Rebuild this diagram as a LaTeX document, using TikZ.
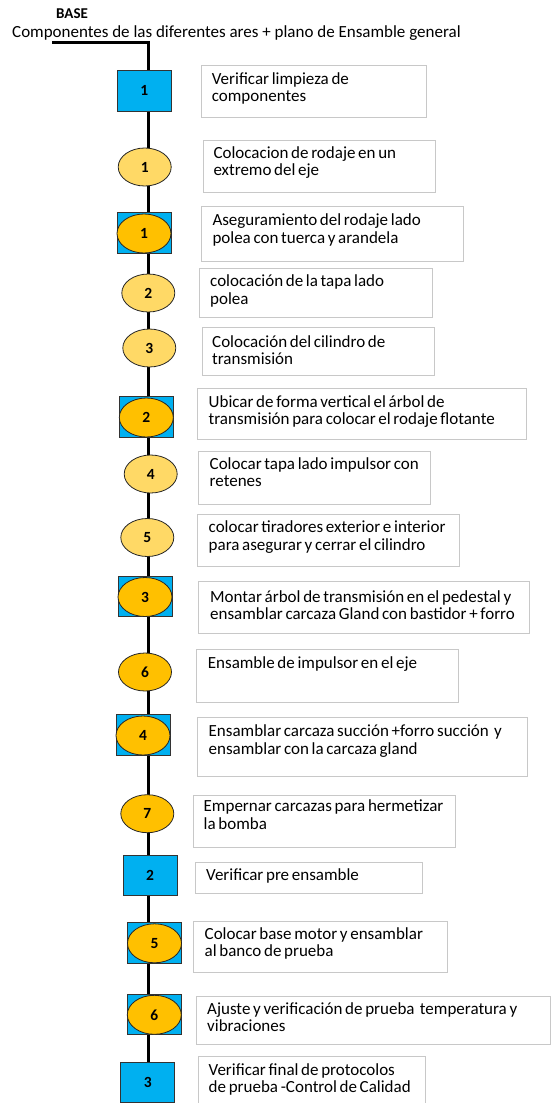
\documentclass[tikz,border=0pt]{standalone}
\usepackage{fontspec}
\setmainfont{Carlito}
\newfontfamily\boxfont{Carlito}[WordSpace=0.7]
\usetikzlibrary{backgrounds,shapes.geometric}

\definecolor{stepblue}{HTML}{00B0F0}
\definecolor{lightgold}{HTML}{FFD966}
\definecolor{darkgold}{HTML}{FFC000}
\definecolor{boxgray}{HTML}{C8C8C8}

\begin{document}
\begin{tikzpicture}[x=1pt,y=-1pt,
  num/.style={font=\bfseries\fontsize{15.5}{17}\selectfont},
  inspect/.style={draw=black!80, line width=0.9pt, fill=stepblue,
    minimum width=54pt, minimum height=40.5pt, inner sep=0pt, num},
  opell/.style={ellipse, draw=black!85, line width=0.8pt,
    minimum width=53pt, minimum height=38pt, inner sep=0pt, num},
  lightop/.style={opell, fill=lightgold},
  darkop/.style={opell, fill=darkgold},
  comboop/.style={darkop, minimum width=54pt, minimum height=39pt},
  textbox/.style={draw=boxgray, line width=1pt, fill=white, anchor=north west, inner sep=0pt},
  boxtext/.style={anchor=base west, inner sep=0pt, font=\boxfont\fontsize{17}{17.3}\selectfont},
  spine/.style={line width=3pt, black, line join=miter}
]
\useasboundingbox (0,0) rectangle (550,1103);

% heading
\node[anchor=base west, inner sep=0pt, font=\bfseries\fontsize{15}{17}\selectfont] (base) at (56,18) {BASE};
\node[anchor=base west, inner sep=0pt, font=\fontsize{17}{20}\selectfont] (title) at (12,37.5)
  {Componentes de las diferentes ares + plano de Ensamble general};

% process symbols
\node[inspect] (n1) at (144.3,90.7) {1};
\node[lightop] (n2) at (144.7,167) {1};
\node[inspect] (q3) at (144,233) {};
\node[comboop] (n3) at (144,233.5) {1};
\node[lightop] (n4) at (148.3,293) {2};
\node[lightop] (n5) at (149.3,348) {3};
\node[inspect] (q6) at (146.3,417) {};
\node[comboop] (n6) at (146.3,417.5) {2};
\node[lightop] (n7) at (150.7,474) {4};
\node[lightop] (n8) at (147.3,537.5) {5};
\node[inspect] (q9) at (145,596.5) {};
\node[comboop] (n9) at (145,597) {3};
\node[darkop] (n10) at (145,672) {6};
\node[inspect] (q11) at (143,735) {};
\node[comboop] (n11) at (143,735.5) {4};
\node[darkop] (n12) at (147.3,813.7) {7};
\node[inspect] (n13) at (150,875.3) {2};
\node[inspect] (q14) at (154.3,942.7) {};
\node[comboop] (n14) at (154.5,943.3) {5};
\node[inspect] (q15) at (154,1014.3) {};
\node[comboop] (n15) at (154.3,1014.8) {6};
\node[inspect] (n16) at (147.7,1082.5) {3};

% main flow line behind the symbols
\coordinate (start) at (52,42);
\coordinate (corner) at (148.3,42);
\coordinate (finish) at (148.3,1104);
\begin{pgfonlayer}{background}
  \draw[spine] (start) -- (corner) -- (corner |- n1) -- (corner |- n2) -- (corner |- n3)
    -- (corner |- n4) -- (corner |- n5) -- (corner |- n6) -- (corner |- n7) -- (corner |- n8)
    -- (corner |- n9) -- (corner |- n10) -- (corner |- n11) -- (corner |- n12) -- (corner |- n13)
    -- (corner |- n14) -- (corner |- n15) -- (corner |- n16) -- (finish);
\end{pgfonlayer}

% description boxes
\node[textbox, minimum width=225.3pt, minimum height=51.7pt] (b1) at (200.7,65) {};
\node[boxtext] (t1) at (211.7,84.3) {\begin{tabular}[t]{@{}l@{}}Verificar limpieza de\\componentes\end{tabular}};

\node[textbox, minimum width=232.3pt, minimum height=52.3pt] (b2) at (202.7,140) {};
\node[boxtext] (t2) at (213.3,158.3) {\begin{tabular}[t]{@{}l@{}}Colocacion de rodaje en un\\extremo del eje\end{tabular}};

\node[textbox, minimum width=262pt, minimum height=55pt] (b3) at (200.7,206) {};
\node[boxtext] (t3) at (212.3,225.7) {\begin{tabular}[t]{@{}l@{}}Aseguramiento del rodaje lado\\polea con tuerca y arandela\end{tabular}};

\node[textbox, minimum width=232.4pt, minimum height=49pt] (b4) at (199.3,268.3) {};
\node[boxtext] (t4) at (210,286.7) {\begin{tabular}[t]{@{}l@{}}colocación de la tapa lado\\polea\end{tabular}};

\node[textbox, minimum width=232.3pt, minimum height=47.7pt] (b5) at (201.7,327.3) {};
\node[boxtext] (t5) at (212,347.5) {\begin{tabular}[t]{@{}l@{}}Colocación del cilindro de\\transmisión\end{tabular}};

\node[textbox, minimum width=328.4pt, minimum height=51pt] (b6) at (197.3,388.3) {};
\node[boxtext] (t6) at (208.5,407.3) {\begin{tabular}[t]{@{}l@{}}Ubicar de forma vertical el árbol de\\transmisión para colocar el rodaje flotante\end{tabular}};

\node[textbox, minimum width=231.7pt, minimum height=53.6pt] (b7) at (198.3,450.7) {};
\node[boxtext] (t7) at (209.5,469.3) {\begin{tabular}[t]{@{}l@{}}Colocar tapa lado impulsor con\\retenes\end{tabular}};

\node[textbox, minimum width=262pt, minimum height=51.4pt] (b8) at (197.3,514.3) {};
\node[boxtext] (t8) at (208.5,532.7) {\begin{tabular}[t]{@{}l@{}}colocar tiradores exterior e interior\\para asegurar y cerrar el cilindro\end{tabular}};

\node[textbox, minimum width=330.7pt, minimum height=51.7pt] (b9) at (198.3,581) {};
\node[boxtext] (t9) at (210,602.3) {\begin{tabular}[t]{@{}l@{}}Montar árbol de transmisión en el pedestal y\\ensamblar carcaza Gland con bastidor + forro\end{tabular}};

\node[textbox, minimum width=262.6pt, minimum height=53pt] (b10) at (195.7,649.3) {};
\node[boxtext] (t10) at (207.7,668.3) {Ensamble de impulsor en el eje};

\node[textbox, minimum width=329.4pt, minimum height=58.7pt] (b11) at (197.3,717.3) {};
\node[boxtext] (t11) at (208.5,736.7) {\begin{tabular}[t]{@{}l@{}}Ensamblar carcaza succión +forro succión~ y\\ensamblar con la carcaza gland\end{tabular}};

\node[textbox, minimum width=262.3pt, minimum height=52.3pt] (b12) at (192.7,795) {};
\node[boxtext] (t12) at (203.5,811.7) {\begin{tabular}[t]{@{}l@{}}Empernar carcazas para hermetizar\\la bomba\end{tabular}};

\node[textbox, minimum width=226.7pt, minimum height=31pt] (b13) at (195,861.7) {};
\node[boxtext] (t13) at (206,880) {Verificar pre ensamble};

\node[textbox, minimum width=253.4pt, minimum height=51.6pt] (b14) at (193.3,920.7) {};
\node[boxtext] (t14) at (204.5,939.3) {\begin{tabular}[t]{@{}l@{}}Colocar base motor y ensamblar\\al banco de prueba\end{tabular}};

\node[textbox, minimum width=353.5pt, minimum height=48.6pt] (b15) at (196,995.7) {};
\node[boxtext] (t15) at (207,1014) {\begin{tabular}[t]{@{}l@{}}Ajuste y verificación de prueba~ temperatura y\\vibraciones\end{tabular}};

\node[textbox, minimum width=227.3pt, minimum height=50pt] (b16) at (197.7,1056) {};
\node[boxtext] (t16) at (208.5,1075) {\begin{tabular}[t]{@{}l@{}}Verificar final de protocolos\\de prueba -Control de Calidad\end{tabular}};
\end{tikzpicture}
\end{document}
